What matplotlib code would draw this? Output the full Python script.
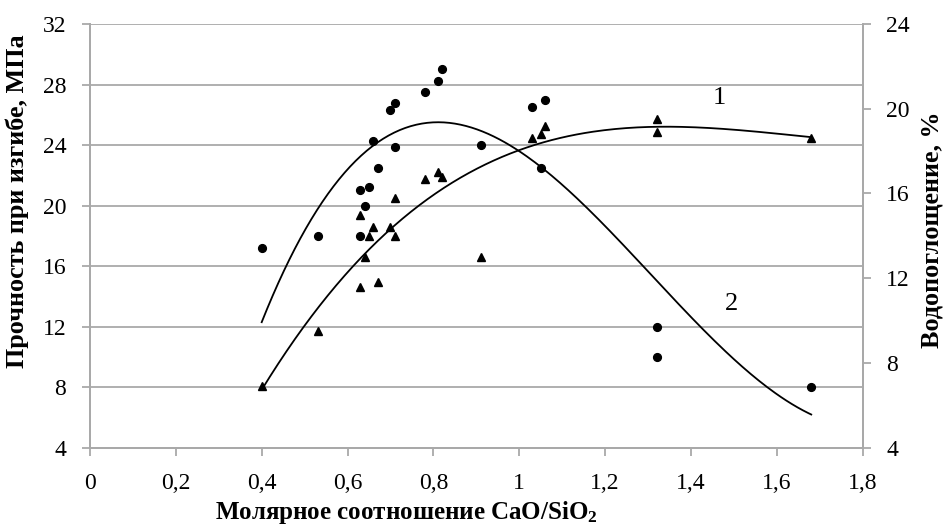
import numpy as np
import matplotlib
matplotlib.use("Agg")
import matplotlib.pyplot as plt

plt.rcParams['font.family'] = ['Liberation Serif', 'DejaVu Serif']
plt.rcParams['mathtext.fontset'] = 'custom'
plt.rcParams['mathtext.bf'] = 'Liberation Serif:bold'
plt.rcParams['mathtext.rm'] = 'Liberation Serif'

# flexural strength, MPa (circles, left axis)
circ_x = [0.40, 0.53, 0.63, 0.63, 0.64, 0.65, 0.66, 0.67, 0.70, 0.71, 0.71,
          0.78, 0.81, 0.82, 0.91, 1.03, 1.05, 1.06, 1.32, 1.32, 1.68]
circ_y = [17.2, 18.0, 18.0, 21.0, 20.0, 21.2, 24.3, 22.5, 26.3, 26.8, 23.9,
          27.5, 28.2, 29.0, 24.0, 26.5, 22.5, 27.0, 12.0, 10.0, 8.0]

# water absorption, % (triangles, right axis)
tri_x = [0.40, 0.53, 0.63, 0.63, 0.64, 0.65, 0.66, 0.67, 0.70, 0.71, 0.71,
         0.78, 0.81, 0.82, 0.91, 1.03, 1.05, 1.06, 1.32, 1.32, 1.68]
tri_y = [6.9, 9.5, 15.0, 11.6, 13.0, 14.0, 14.4, 11.8, 14.4, 15.8, 14.0,
         16.7, 17.0, 16.8, 13.0, 18.6, 18.8, 19.2, 19.5, 18.9, 18.6]

x_ticks = [0, 0.2, 0.4, 0.6, 0.8, 1.0, 1.2, 1.4, 1.6, 1.8]
x_labels = ['0', '0,2', '0,4', '0,6', '0,8', '1', '1,2', '1,4', '1,6', '1,8']
left_ticks = [4, 8, 12, 16, 20, 24, 28, 32]
right_ticks = [4, 8, 12, 16, 20, 24]

grey = '#a9a9a9'

fig = plt.figure(figsize=(9.46, 5.26), dpi=100)
ax = fig.add_axes([0.0951, 0.1489, 0.8169, 0.8055])
ax2 = ax.twinx()

# polynomial trend lines (as in the spreadsheet chart)
xs = np.linspace(min(circ_x), max(circ_x), 200)
p2 = np.polyfit(circ_x, circ_y, 3)
p1 = np.polyfit(tri_x, tri_y, 3)

ax.plot(circ_x, circ_y, 'o', color='black', ms=5.6, zorder=3)
ax.plot(xs, np.polyval(p2, xs), color='black', lw=1.3, zorder=3)
ax2.plot(tri_x, tri_y, '^', color='black', ms=6, zorder=3)
ax2.plot(xs, np.polyval(p1, xs), color='black', lw=1.3, zorder=3)

ax.set_xlim(0, 1.8)
ax.set_ylim(4, 32)
ax2.set_ylim(4, 24)
ax.set_xticks(x_ticks)
ax.set_xticklabels(x_labels)
ax.set_yticks(left_ticks)
ax2.set_yticks(right_ticks)

ax.yaxis.grid(True, color=grey, lw=1.3)
ax.set_axisbelow(True)

for a in (ax, ax2):
    for s in a.spines.values():
        a.spines[s.spine_type].set_color(grey)
        a.spines[s.spine_type].set_linewidth(1.3)
    a.spines['top'].set_visible(False)
    a.tick_params(colors=grey, labelcolor='black', labelsize=17, width=1.3, length=6)
ax.tick_params(axis='y', pad=11)
ax.tick_params(axis='x', pad=12)
ax2.tick_params(axis='y', pad=11)

fig.text(0.430, 0.0133, 'Молярное соотношение CaO/SiO$\\mathbf{_2}$',
         ha='center', va='baseline', fontsize=18, fontweight='bold')
fig.text(0.0185, 0.6179, 'Прочность при изгибе, МПа', rotation=90,
         ha='center', va='center', fontsize=18.8, fontweight='bold')
fig.text(0.9852, 0.5637, 'Водопоглощение, %', rotation=90,
         ha='center', va='center', fontsize=18.8, fontweight='bold')

ax.text(1.45, 26.7, '1', fontsize=19)
ax.text(1.48, 13.1, '2', fontsize=19)

fig.savefig('out.png', dpi=100)
